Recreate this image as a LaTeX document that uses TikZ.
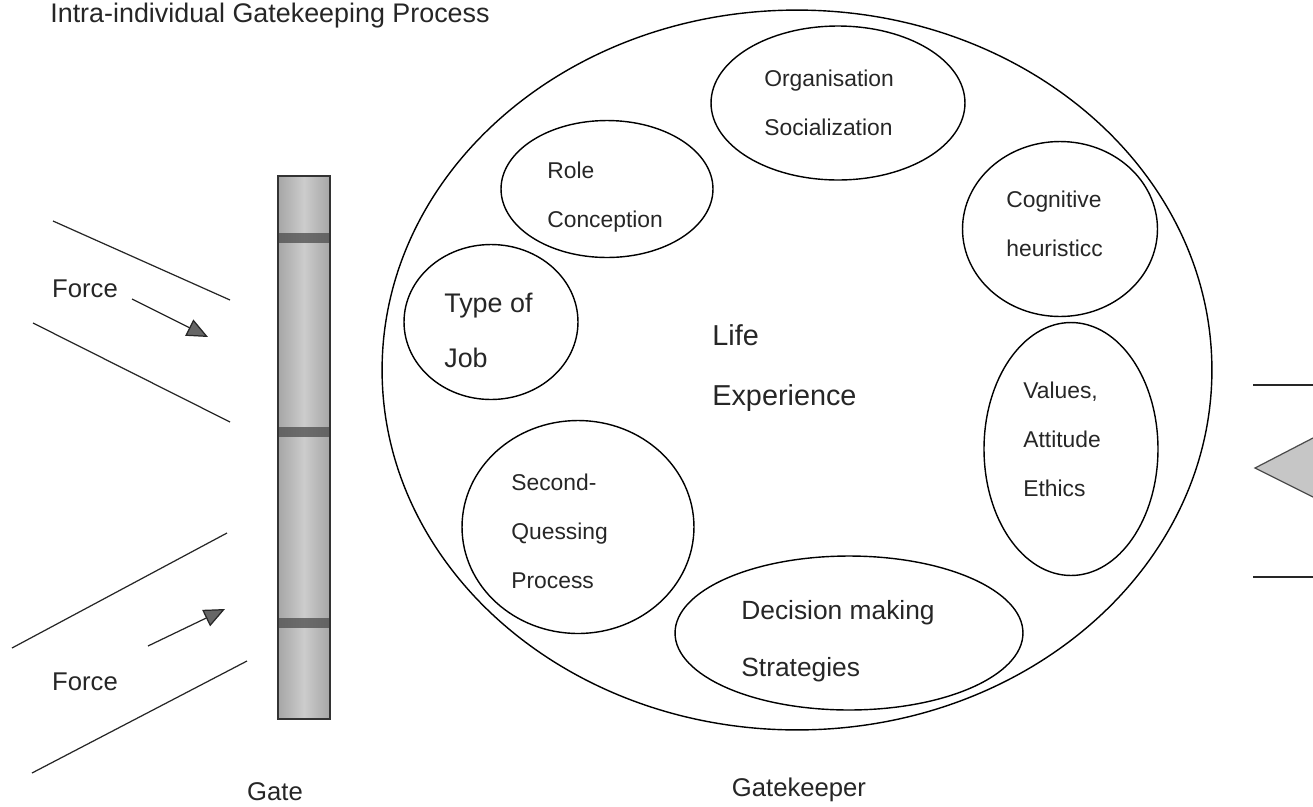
\documentclass[tikz,border=0pt]{standalone}
\usepackage{fontspec}
\setmainfont{Liberation Sans}
\usetikzlibrary{shapes.geometric,arrows.meta}

\begin{document}
\begin{tikzpicture}[x=0.02cm,y=-0.02cm,
  bubble/.style={shape=ellipse,draw,line width=0.8pt,inner sep=0pt},
  txt/.style={anchor=west,align=left,inner sep=0pt,text=black!85,font=\fontsize{13}{27.8}\selectfont},
  capt/.style={inner sep=0pt,text=black!85,font=\fontsize{14.6}{17}\selectfont},
  wall/.style={line width=0.7pt,draw=black!85},
  push/.style={-{Triangle[length=0.42cm,width=0.36cm,fill=black!60]},line width=0.7pt,draw=black!85}]
\useasboundingbox (0,0) rectangle (1313,806);

\node(title) at (50,16)[capt,anchor=west,font=\fontsize{15.3}{18}\selectfont] {Intra-individual Gatekeeping Process};

% the gate
\node(gate) at (304,447.5)[draw=black!80,line width=1.2pt,left color=gray!70,right color=gray!70,middle color=gray!40,
  minimum width=1.04cm,minimum height=10.86cm,inner sep=0pt] {};
\foreach \y in {238,432,623}
  \fill[gray!60!black,opacity=0.75] (279,\y-5) rectangle (329,\y+5);
\node(gatetxt) at (275,792)[capt] {Gate};

% forces on the left
\draw[wall] (53,221) -- (230,300);
\draw[wall] (33,323) -- (230,422);
\draw[wall] (12,648) -- (227,533);
\draw[wall] (32,773) -- (247,661);
\coordinate(f1a) at (132,299);
\coordinate(f1b) at (208,337);
\coordinate(f2a) at (148,646);
\coordinate(f2b) at (225,609);
\draw[push] (f1a) -- (f1b);
\draw[push] (f2a) -- (f2b);
\node(force1) at (85,289)[capt] {Force};
\node(force2) at (85,682)[capt] {Force};

% the gatekeeper
\node(keeper) at (797,370)[bubble,minimum width=16.6cm,minimum height=14.4cm] {};
\node(org)  at (838,103)[bubble,minimum width=5.08cm,minimum height=3.08cm] {};
\node(role) at (607,189)[bubble,minimum width=4.24cm,minimum height=2.74cm] {};
\node(job)  at (491,322)[bubble,minimum width=3.48cm,minimum height=3.1cm] {};
\node(cog)  at (1060,229)[bubble,minimum width=3.9cm,minimum height=3.5cm] {};
\node(val)  at (1071,449)[bubble,minimum width=3.48cm,minimum height=5.06cm] {};
\node(sec)  at (578,527)[bubble,minimum width=4.64cm,minimum height=4.26cm] {};
\node(dec)  at (849,633)[bubble,minimum width=6.96cm,minimum height=3.08cm] {};

\node(orgtxt)  at (764,103)[txt] {Organisation\\Socialization};
\node(roletxt) at (547,197)[txt] {Role\\Conception};
\node(jobtxt)  at (444,330)[txt,font=\fontsize{15.3}{31.2}\selectfont] {Type of\\Job};
\node(cogtxt)  at (1006,224)[txt] {Cognitive\\heuristicc};
\node(life)    at (712,368)[txt,font=\fontsize{16.4}{34}\selectfont] {Life\\Experience};
\node(valtxt)  at (1023,439)[txt] {Values,\\Attitude\\Ethics};
\node(sectxt)  at (511,531)[txt] {Second-\\Quessing\\Process};
\node(dectxt)  at (741,641)[txt,font=\fontsize{15}{32.3}\selectfont] {Decision making\\Strategies};
\node(keepertxt) at (799,790)[capt] {Gatekeeper};

% outgoing side
\draw[wall] (1253,385) -- (1313,385);
\draw[wall] (1253,577) -- (1313,577);
\fill[gray!45] (1313,438) -- (1255,468) -- (1313,497) -- cycle;
\draw[gray!60!black,line width=0.7pt] (1313,438) -- (1255,468) -- (1313,497);
\end{tikzpicture}
\end{document}
